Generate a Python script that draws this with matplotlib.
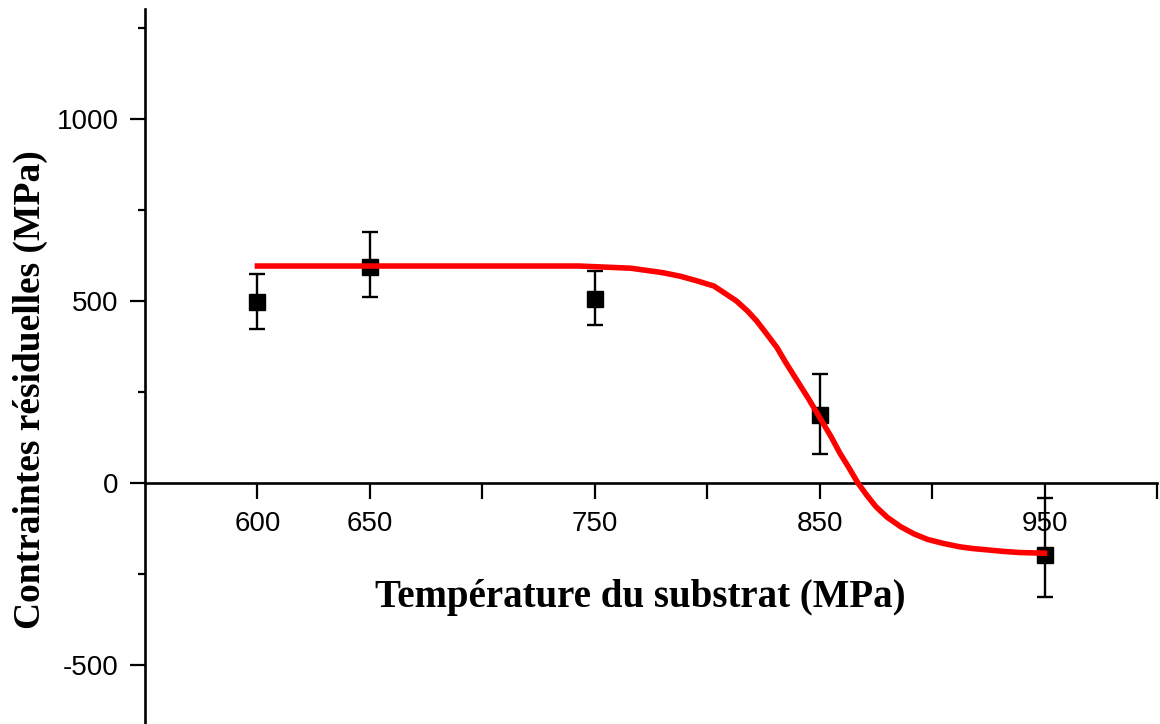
import matplotlib
matplotlib.use('Agg')
import matplotlib.pyplot as plt
from matplotlib.ticker import FixedLocator, FixedFormatter

# measured points (temperature, residual stress) with error bars
temps = [600, 650, 750, 850, 950]
stress = [497, 593, 506, 186, -197]
err_low = [73, 82, 72, 107, 117]
err_high = [77, 96, 76, 114, 156]

# fitted curve
fit_x = [600, 650, 700, 743, 766, 780, 788, 795, 803, 813, 818, 822, 826,
         831, 835, 840, 845, 850, 855, 859, 863, 867, 871, 875, 880, 886,
         892, 898, 905, 912, 918, 925, 932, 939, 945, 950]
fit_y = [596, 596, 596, 596, 590, 578, 568, 556, 541, 500, 472, 445, 413,
         372, 330, 281, 232, 180, 128, 82, 42, 0, -34, -65, -94, -120,
         -140, -155, -166, -175, -180, -184, -188, -191, -192, -193]

x_ticks = [600, 650, 700, 750, 800, 850, 900, 950, 1000]
x_labels = ['600', '650', '', '750', '', '850', '', '950', '']
y_major = [-500, 0, 500, 1000]
y_minor = [-250, 250, 750, 1250]

plt.rcParams['font.family'] = ['Liberation Sans', 'DejaVu Sans']
plt.rcParams['axes.unicode_minus'] = False

fig = plt.figure(figsize=(11.6, 7.24), dpi=100)
ax = fig.add_axes([145 / 1160, 0, 1012 / 1160, 715 / 724])

ax.errorbar(temps, stress, yerr=[err_low, err_high], fmt='s', color='black',
            markersize=12, elinewidth=1.7, capsize=6, capthick=1.7, zorder=3)
ax.plot(fit_x, fit_y, color='#ff0000', linewidth=4, solid_joinstyle='round', zorder=4)

ax.set_xlim(550, 1000)
ax.set_ylim(-662, 1302)

ax.spines['top'].set_visible(False)
ax.spines['right'].set_visible(False)
ax.spines['left'].set_position(('data', 550))
ax.spines['bottom'].set_position(('data', 0))
for s in ['left', 'bottom']:
    ax.spines[s].set_linewidth(1.9)

ax.xaxis.set_major_locator(FixedLocator(x_ticks))
ax.xaxis.set_major_formatter(FixedFormatter(x_labels))
ax.yaxis.set_major_locator(FixedLocator(y_major))
ax.yaxis.set_minor_locator(FixedLocator(y_minor))

ax.tick_params(axis='x', direction='out', length=11.5, width=1.6, pad=9, labelsize=20)
ax.tick_params(axis='y', which='major', direction='out', length=11, width=1.6, pad=8, labelsize=20)
ax.tick_params(axis='y', which='minor', direction='out', length=5, width=1.6)

fig.text(640 / 1160, 1 - 598 / 724, 'Température du substrat (MPa)',
         family='Liberation Serif', fontweight='bold', fontsize=28,
         ha='center', va='center')
fig.text(30 / 1160, 1 - 390 / 724, 'Contraintes résiduelles (MPa)',
         family='Liberation Serif', fontweight='bold', fontsize=27,
         ha='center', va='center', rotation=90)

fig.savefig('out.png', dpi=100)
